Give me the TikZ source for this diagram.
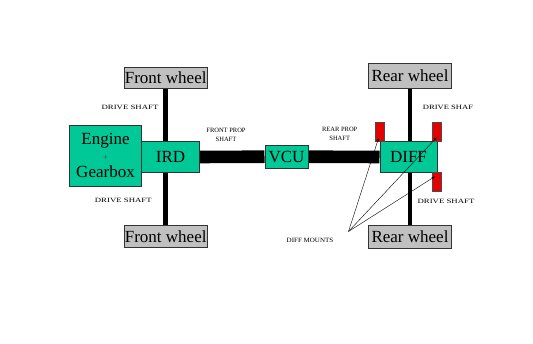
\documentclass[tikz,border=0pt]{standalone}
\usepackage{fontspec}
\setmainfont{Liberation Serif}
\newfontfamily\tmsfont{Liberation Serif}
\usetikzlibrary{arrows.meta,backgrounds}
\definecolor{unitteal}{RGB}{0,200,150}
\definecolor{wheelgrey}{RGB}{192,192,192}
\definecolor{mountred}{RGB}{230,0,0}
\begin{document}
\begin{tikzpicture}[x=1pt,y=-1pt,
  box/.style={draw=black!80, line width=0.5pt, inner sep=0pt, font=\tmsfont\fontsize{17}{18}\selectfont},
  unit/.style={box, fill=unitteal},
  wheel/.style={box, fill=wheelgrey, minimum width=83.4pt},
  mount/.style={draw=black!70, line width=0.4pt, fill=mountred, inner sep=0pt, minimum width=9.5pt, minimum height=19pt},
  lbl/.style={font=\tmsfont\fontsize{6.5}{9}\selectfont, align=center, inner sep=0pt},
  shaft/.style={line width=4.7pt},
  prop/.style={line width=12.6pt},
  pointer/.style={line width=0.4pt, -{Stealth[length=3.5pt,width=2.5pt]}}]
\useasboundingbox (0,0) rectangle (533,344);
% wheels
\node[wheel, minimum height=21.7pt] (fw1) at (165.7,77.8) {Front wheel};
\node[wheel, minimum height=22.7pt] (fw2) at (165.7,236.3) {Front wheel};
\node[wheel, minimum height=25pt] (rw1) at (410,75.8) {Rear wheel};
\node[wheel, minimum height=22.5pt] (rw2) at (410,236.8) {Rear wheel};
% units
\node[unit, minimum width=72.4pt, minimum height=61pt, align=center] (eng) at (105.5,155.5)
  {Engine\\[-2pt]{\fontsize{9}{10}\selectfont\color{black!70}+}\\[-1pt]Gearbox};
\node[unit, minimum width=57.6pt, minimum height=30.6pt] (ird) at (170.5,157) {IRD};
\node[unit, minimum width=43.5pt, minimum height=23.3pt] (vcu) at (286.5,156.7) {VCU};
\node[unit, minimum width=57.5pt, minimum height=30.6pt] (diff) at (408.5,157) {DIFF};
% mounts
\node[mount] (m1) at (379.7,131.5) {};
\node[mount] (m2) at (436.9,131.5) {};
\node[mount] (m3) at (436.9,181.7) {};
% shafts behind
\begin{scope}[on background layer]
  \fill[white] (0,0) rectangle (533,344);
  \draw[shaft] (fw1.south) -- (fw2.north);
  \draw[shaft] (rw1.south) -- (rw2.north);
  \draw[prop] (ird.east) -- (vcu.west);
  \draw[prop] (vcu.east) -- (diff.west);
\end{scope}
% labels
\node[lbl] (ds1) at (130,107) {\scalebox{1.35}[1]{DRIVE SHAFT}};
\node[lbl] (ds2) at (123.3,200) {\scalebox{1.35}[1]{DRIVE SHAFT}};
\node[lbl] (fps) at (226,134.5) {FRONT PROP\\SHAFT};
\node[lbl] (rps) at (339.7,134) {REAR PROP\\SHAFT};
\node[lbl] (ds3) at (448,107) {\scalebox{1.32}[1]{DRIVE SHAF}};
\node[lbl] (ds4) at (446,201.7) {\scalebox{1.35}[1]{DRIVE SHAFT}};
\node[lbl] (dm) at (310,240) {\scalebox{1.08}[1]{DIFF MOUNTS}};
% pointers
\coordinate (apex) at (348.5,231.5);
\draw[pointer] (apex) -- ([xshift=-1pt,yshift=3.5pt]m1.south);
\draw[pointer] (apex) -- ([yshift=4pt]m2.south);
\draw[pointer] (apex) -- ([xshift=-2pt,yshift=-4.5pt]m3.north);
\end{tikzpicture}
\end{document}
